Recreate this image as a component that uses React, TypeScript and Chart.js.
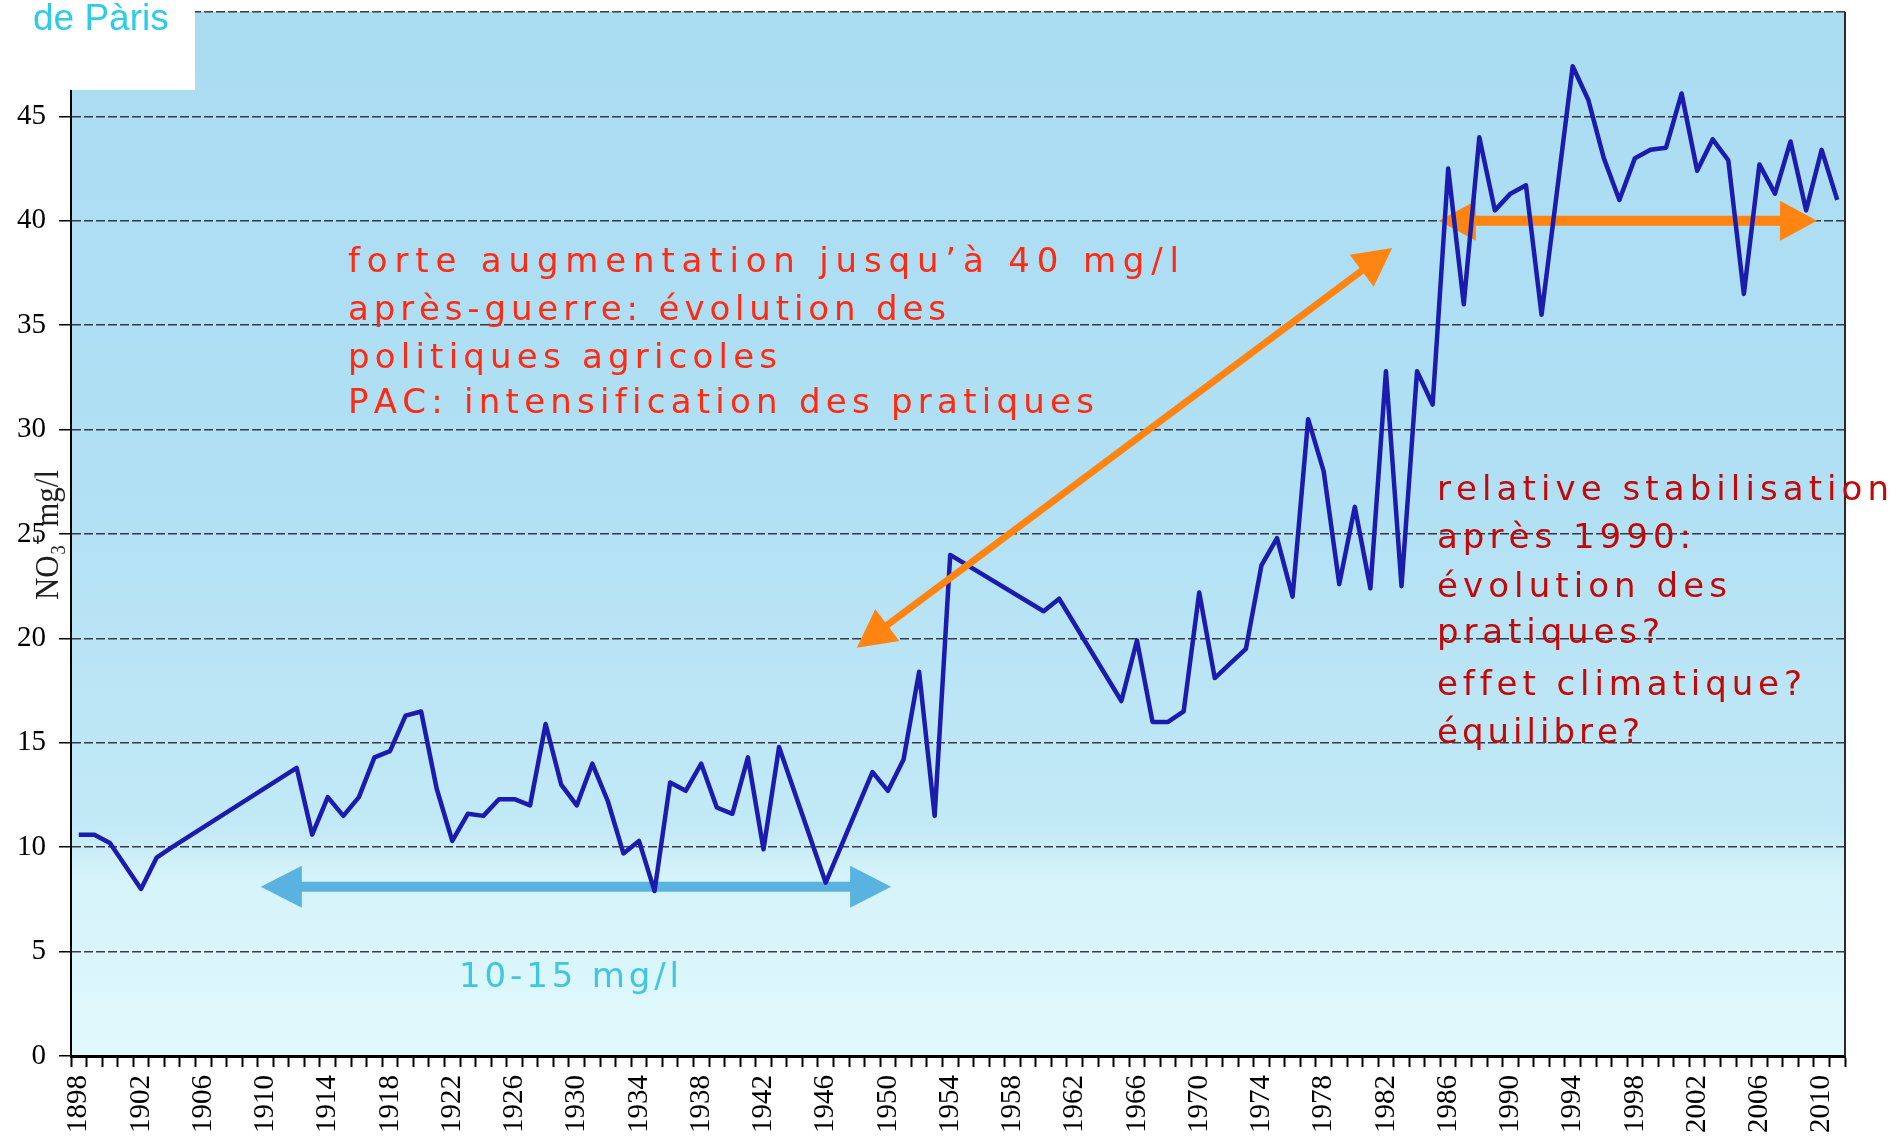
import React, { useEffect, useRef } from 'react';
import { Chart, registerables } from 'chart.js';

Chart.register(...registerables);

// ---------- data ----------
const FIRST_YEAR = 1898;
const LAST_YEAR = 2011;
const years: string[] = [];
for (let y = FIRST_YEAR; y <= LAST_YEAR; y++) years.push(String(y));

// NO3- (mg/l), one value per year 1898..2011 (null = no measurement, line spans the gap)
const nitrate: (number | null)[] = [
  10.6, 10.6, 10.2, 9.1, 8.0, 9.5, 10.0, null, null, null, // 1898-1907
  null, null, null, null, 13.8, 10.6, 12.4, 11.5, 12.4, 14.3, // 1908-1917
  14.6, 16.3, 16.5, 12.8, 10.3, 11.6, 11.5, 12.3, 12.3, 12.0, // 1918-1927
  15.9, 13.0, 12.0, 14.0, 12.2, 9.7, 10.3, 7.9, 13.1, 12.7, // 1928-1937
  14.0, 11.9, 11.6, 14.3, 9.9, 14.8, null, null, 8.3, null, // 1938-1947
  null, 13.6, 12.7, 14.2, 18.4, 11.5, 24.0, null, null, null, // 1948-1957
  null, null, 21.3, 21.9, null, null, null, 17.0, 19.9, 16.0, // 1958-1967
  16.0, 16.5, 22.2, 18.1, 18.8, 19.5, 23.5, 24.8, 22.0, 30.5, // 1968-1977
  28.0, 22.6, 26.3, 22.4, 32.8, 22.5, 32.8, 31.2, 42.5, 36.0, // 1978-1987
  44.0, 40.5, 41.3, 41.7, 35.5, null, 47.4, 45.8, 43.0, 41.0, // 1988-1997
  43.0, 43.4, 43.5, 46.1, 42.4, 43.9, 42.9, 36.5, 42.7, 41.3, // 1998-2007
  43.8, 40.5, 43.4, 41.0, // 2008-2011
];

const Y_MIN = 0;
const Y_MAX = 50;
const Y_STEP = 5;
const LABEL_EVERY = 4;

// annotation arrows in data coordinates [year, value]
const arrowLow = { from: [1909.7, 8.1], to: [1950.2, 8.1] };
const arrowRise = { from: [1948.0, 19.55], to: [1982.4, 38.7] };
const arrowHigh = { from: [1985.4, 40.0], to: [2009.7, 40.0] };

const textRise = [
  'forte augmentation jusqu’à 40 mg/l',
  'après-guerre: évolution des',
  'politiques agricoles',
  'PAC: intensification des pratiques',
];
const textStable = [
  'relative stabilisation',
  'après 1990:',
  'évolution des',
  'pratiques?',
  'effet climatique?',
  'équilibre?',
];
const textLow = '10-15 mg/l';
const yTitle = 'NO₃⁻ mg/l';
const logoText = 'de Pàris';

// ---------- layout (pixels) ----------
const W = 1896;
const H = 1139;
const riseLayout = { x: 348, baselines: [272, 320, 368, 413], ends: [1179, 946, 777, 1094] };
const stableLayout = { x: 1437, baselines: [500, 548, 597, 643, 695, 743], ends: [1889, 1691, 1727, 1660, 1802, 1640] };
const lowLayout = { x: 459, baseline: 987, end: 679 };

const BLOCK_FONT = '34px "DejaVu Sans", Verdana, sans-serif';
const SERIF = '"Liberation Serif", "Times New Roman", serif';

function drawSpaced(ctx: CanvasRenderingContext2D, text: string, x: number, y: number, endX: number) {
  const chars = Array.from(text);
  const widths = chars.map((c) => ctx.measureText(c).width);
  const total = widths.reduce((a, b) => a + b, 0);
  const sp = chars.length > 1 ? (endX - x - total) / (chars.length - 1) : 0;
  let cx = x;
  chars.forEach((c, i) => {
    ctx.fillText(c, cx, y);
    cx += widths[i] + sp;
  });
}

function drawArrow(
  ctx: CanvasRenderingContext2D,
  x1: number, y1: number, x2: number, y2: number,
  shaft: number, headLen: number, headHalf: number, color: string
) {
  const dx = x2 - x1;
  const dy = y2 - y1;
  const len = Math.hypot(dx, dy);
  const ux = dx / len, uy = dy / len;
  const nx = -uy, ny = ux;
  const b1x = x1 + ux * headLen, b1y = y1 + uy * headLen;
  const b2x = x2 - ux * headLen, b2y = y2 - uy * headLen;
  const s = shaft / 2;
  ctx.save();
  ctx.fillStyle = color;
  ctx.beginPath();
  ctx.moveTo(x1, y1);
  ctx.lineTo(b1x + nx * headHalf, b1y + ny * headHalf);
  ctx.lineTo(b1x + nx * s, b1y + ny * s);
  ctx.lineTo(b2x + nx * s, b2y + ny * s);
  ctx.lineTo(b2x + nx * headHalf, b2y + ny * headHalf);
  ctx.lineTo(x2, y2);
  ctx.lineTo(b2x - nx * headHalf, b2y - ny * headHalf);
  ctx.lineTo(b2x - nx * s, b2y - ny * s);
  ctx.lineTo(b1x - nx * s, b1y - ny * s);
  ctx.lineTo(b1x - nx * headHalf, b1y - ny * headHalf);
  ctx.closePath();
  ctx.fill();
  ctx.restore();
}

function px(chart: any, p: number[]) {
  const xs = chart.scales.x;
  const ys = chart.scales.y;
  return [xs.getPixelForValue(p[0] - FIRST_YEAR), ys.getPixelForValue(p[1])];
}

const decorPlugin = {
  id: 'decor',
  beforeDraw(chart: any) {
    const { ctx, chartArea: a } = chart;
    const g = ctx.createLinearGradient(0, a.top, 0, a.bottom);
    g.addColorStop(0, '#aadcf2');
    g.addColorStop(0.45, '#b1e0f4');
    g.addColorStop(0.78, '#c2e9f6');
    g.addColorStop(0.83, '#d6f3fa');
    g.addColorStop(1, '#e0f9fc');
    ctx.save();
    ctx.fillStyle = g;
    ctx.fillRect(a.left, a.top, a.right - a.left, a.bottom - a.top);
    ctx.restore();
  },
  beforeDatasetsDraw(chart: any) {
    const { ctx } = chart;
    let [x1, y1] = px(chart, arrowLow.from);
    let [x2, y2] = px(chart, arrowLow.to);
    drawArrow(ctx, x1, y1, x2, y2, 10, 41, 21, '#5ab2e0');
    [x1, y1] = px(chart, arrowHigh.from);
    [x2, y2] = px(chart, arrowHigh.to);
    drawArrow(ctx, x1, y1, x2, y2, 10, 37, 20, '#ff8412');
  },
  afterDatasetsDraw(chart: any) {
    const { ctx } = chart;
    const [x1, y1] = px(chart, arrowRise.from);
    const [x2, y2] = px(chart, arrowRise.to);
    drawArrow(ctx, x1, y1, x2, y2, 7, 38, 20, '#ff8412');
  },
  afterDraw(chart: any) {
    const { ctx, chartArea: a } = chart;
    ctx.save();
    // right frame line
    ctx.strokeStyle = '#2a2a2a';
    ctx.lineWidth = 2;
    ctx.beginPath();
    ctx.moveTo(a.right, a.top);
    ctx.lineTo(a.right, a.bottom);
    ctx.stroke();

    // text blocks
    ctx.font = BLOCK_FONT;
    ctx.textBaseline = 'alphabetic';
    ctx.textAlign = 'left';
    ctx.fillStyle = '#ff2a12';
    textRise.forEach((t, i) => drawSpaced(ctx, t, riseLayout.x, riseLayout.baselines[i], riseLayout.ends[i]));
    ctx.fillStyle = '#c20808';
    textStable.forEach((t, i) => drawSpaced(ctx, t, stableLayout.x, stableLayout.baselines[i], stableLayout.ends[i]));
    ctx.fillStyle = '#3fc6e0';
    drawSpaced(ctx, textLow, lowLayout.x, lowLayout.baseline, lowLayout.end);

    // white logo box
    ctx.fillStyle = '#ffffff';
    ctx.fillRect(0, 0, 195, 90);
    ctx.fillStyle = '#2ccbe8';
    ctx.font = '37px "Liberation Sans", Arial, sans-serif';
    ctx.fillText(logoText, 33, 30);

    // y axis title (overlapping the labels, as in the original)
    ctx.fillStyle = '#1e1e1e';
    ctx.font = '34px ' + SERIF;
    const w = ctx.measureText(yTitle).width;
    ctx.translate(58, 600);
    ctx.rotate(-Math.PI / 2);
    ctx.scale(130 / w, 1);
    ctx.fillText(yTitle, 0, 0);
    ctx.restore();
  },
};

export default function App() {
  const ref = useRef<HTMLCanvasElement | null>(null);

  useEffect(() => {
    if (!ref.current) return;
    const chart = new Chart(ref.current, {
      type: 'line',
      data: {
        labels: years,
        datasets: [
          {
            data: nitrate,
            borderColor: '#1b1bae',
            borderWidth: 4.5,
            pointRadius: 0,
            tension: 0,
            spanGaps: true,
            fill: false,
            borderJoinStyle: 'round',
          },
        ],
      },
      options: {
        animation: false,
        responsive: false,
        devicePixelRatio: 1,
        layout: { padding: { top: 12, right: 51, left: 0, bottom: 0 } },
        plugins: { legend: { display: false }, tooltip: { enabled: false }, title: { display: false } },
        scales: {
          x: {
            type: 'category',
            offset: true,
            grid: {
              offset: true,
              drawOnChartArea: false,
              drawTicks: true,
              tickLength: 11,
              tickWidth: 2,
              tickColor: '#000',
              color: '#000',
            },
            border: { color: '#000', width: 3 },
            ticks: {
              autoSkip: false,
              maxRotation: 90,
              minRotation: 90,
              padding: 8,
              color: '#000',
              font: { family: SERIF, size: 29 },
              callback: (_v: any, i: number) =>
                (Number(years[i]) - FIRST_YEAR) % LABEL_EVERY === 0 ? years[i] : '',
            },
            afterFit: (s: any) => {
              s.height = 83;
              s.paddingLeft = 0;
              s.paddingRight = 0;
            },
          },
          y: {
            min: Y_MIN,
            max: Y_MAX,
            ticks: {
              stepSize: Y_STEP,
              color: '#000',
              padding: 13,
              font: { family: SERIF, size: 29 },
              callback: (v: any) => (v === Y_MAX ? '' : String(v)),
            },
            grid: {
              color: 'rgba(28,28,40,0.85)',
              lineWidth: 1.5,
              tickColor: '#000',
              tickLength: 12,
              tickWidth: 1.5,
            },
            border: { color: '#000', width: 2, dash: [9, 3] },
            afterFit: (s: any) => {
              s.width = 71;
              s.paddingTop = 0;
              s.paddingBottom = 0;
            },
          },
        },
      },
      plugins: [decorPlugin],
    } as any);
    return () => chart.destroy();
  }, []);

  return (
    <div style={{ position: 'absolute', left: 0, top: 0, width: W, height: H, background: '#fff' }}>
      <canvas ref={ref} width={W} height={H} style={{ display: 'block' }} />
    </div>
  );
}
